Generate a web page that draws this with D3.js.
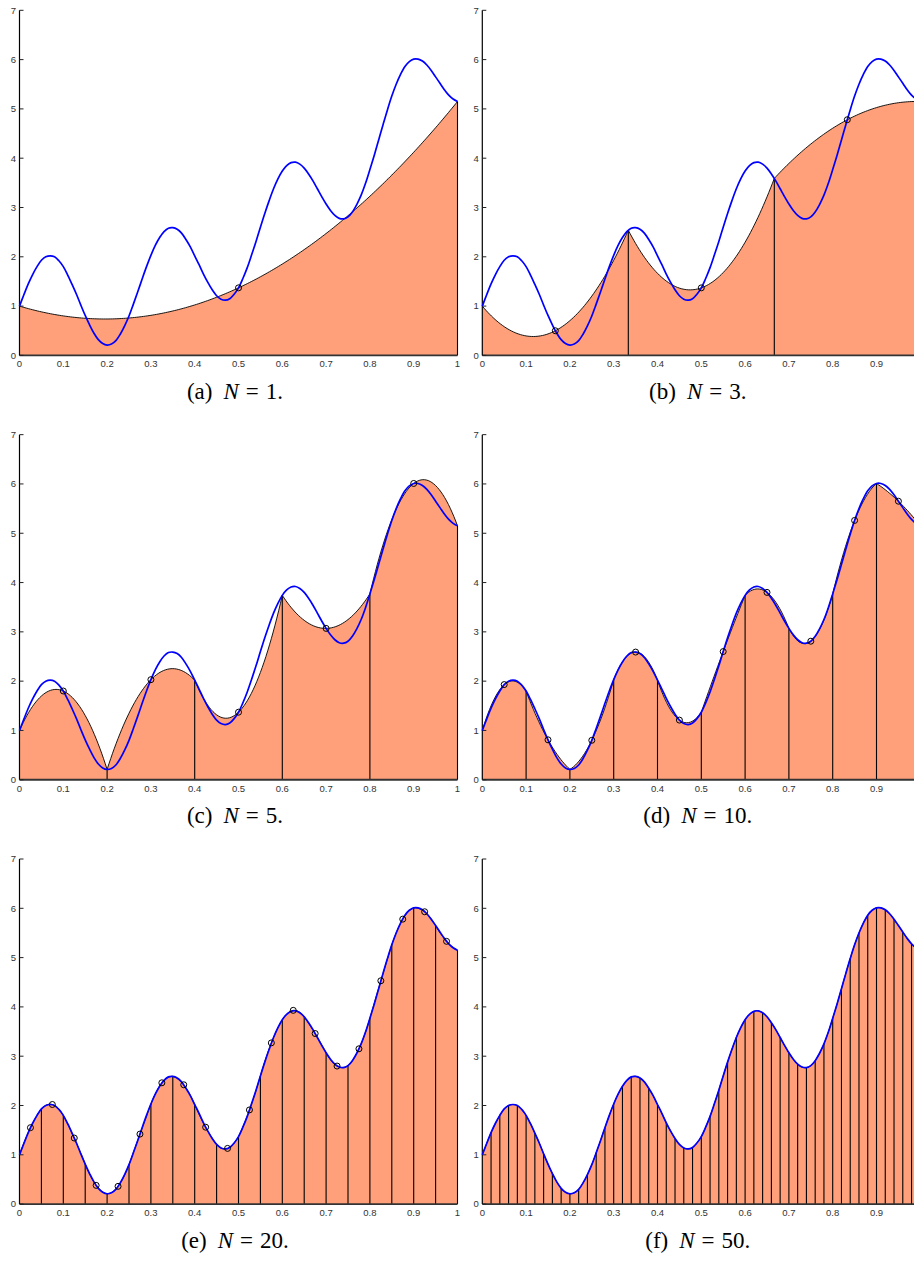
<!DOCTYPE html>
<html><head><meta charset="utf-8">
<script src="https://cdn.jsdelivr.net/npm/d3@7"></script>
<style>body{margin:0;background:#fff}svg{display:block}</style>
</head><body>
<svg id="c" width="914" height="1262"></svg>
<script>
// Function values, x = 0, 0.01, ..., 1
const fValues = [
  1.00,1.23,1.45,1.64,1.80,1.93,2.00,2.02,2.00,1.92,
  1.80,1.63,1.44,1.24,1.02,0.81,0.62,0.45,0.32,0.24,
  0.21,0.23,0.30,0.43,0.60,0.80,1.04,1.29,1.55,1.80,
  2.03,2.23,2.39,2.51,2.58,2.59,2.56,2.48,2.35,2.20,
  2.02,1.84,1.65,1.48,1.33,1.21,1.14,1.12,1.15,1.24,
  1.37,1.56,1.78,2.04,2.31,2.60,2.88,3.14,3.38,3.58,
  3.74,3.85,3.91,3.92,3.88,3.80,3.68,3.54,3.38,3.22,
  3.07,2.94,2.84,2.78,2.77,2.81,2.91,3.06,3.25,3.49,
  3.77,4.06,4.37,4.68,4.98,5.26,5.50,5.70,5.86,5.96,
  6.01,6.01,5.97,5.89,5.78,5.65,5.52,5.39,5.28,5.20,5.15
];
// Midpoint values for N = 20 (x = 0.025, 0.075, ..., 0.975)
const midValuesN20 = [1.55,2.02,1.34,0.38,0.36,1.42,2.46,2.42,1.56,1.13,
                      1.91,3.27,3.93,3.46,2.80,3.15,4.53,5.78,5.93,5.33];
// Node values for N = 3 (x = 0, 1/6, 2/6, ..., 1)
const nodeValuesN3 = [1.00,0.50,2.54,1.37,3.59,4.78,5.15];

const panelLetters = ['a','b','c','d','e','f'];
const panelN = [1,3,5,10,20,50];
const showMarkers = [true,true,true,true,true,false];
const xTickValues = [0,0.1,0.2,0.3,0.4,0.5,0.6,0.7,0.8,0.9,1];
const xTickLabels = ['0','0.1','0.2','0.3','0.4','0.5','0.6','0.7','0.8','0.9','1'];
const yTickValues = [0,1,2,3,4,5,6,7];
const yTickLabels = ['0','1','2','3','4','5','6','7'];

const PAGE_W = 914;
const W = 438, H = 345.1;
const colX = [19.5, 482.3];
const rowY = [10.3, 434.65, 859];
const capDX = 215.5, capBase = 399;

const svg = d3.select('#c');
svg.append('rect').attr('width',914).attr('height',1262).attr('fill','#fff');

function nodesFor(N){
  const m = 2*N;
  return d3.range(m+1).map(j => {
    const x = j/m;
    let y;
    if (N === 3) y = nodeValuesN3[j];
    else if (N === 20) y = (j % 2 === 0) ? fValues[Math.round(j*2.5)] : midValuesN20[(j-1)/2];
    else y = fValues[Math.round(j*50/N)];
    return {x, y};
  });
}

function parabolaPoints(nodes, S){
  const pts = [];
  for (let i = 0; i + 2 < nodes.length; i += 2){
    const a = nodes[i], m = nodes[i+1], b = nodes[i+2];
    for (let t = (i === 0 ? 0 : 1); t <= S; t++){
      const x = a.x + (b.x - a.x) * t / S;
      const L0 = (x - m.x)*(x - b.x)/((a.x - m.x)*(a.x - b.x));
      const L1 = (x - a.x)*(x - b.x)/((m.x - a.x)*(m.x - b.x));
      const L2 = (x - a.x)*(x - m.x)/((b.x - a.x)*(b.x - m.x));
      pts.push({x, y: a.y*L0 + m.y*L1 + b.y*L2});
    }
  }
  return pts;
}

panelN.forEach((N, p) => {
  const col = p % 2, row = Math.floor(p / 2);
  const x = d3.scaleLinear().domain([0,1]).range([colX[col], colX[col] + W]);
  const y = d3.scaleLinear().domain([0,7]).range([rowY[row] + H, rowY[row]]);
  const g = svg.append('g');
  const nodes = nodesFor(N);
  const S = Math.max(8, Math.round(240 / N));
  const par = parabolaPoints(nodes, S);

  g.append('path').datum(par)
    .attr('d', d3.area().x(d => x(d.x)).y0(y(0)).y1(d => y(d.y)))
    .attr('fill', '#ffa07a').attr('stroke', 'none');

  const bounds = nodes.filter((d, j) => j % 2 === 0 && j > 0);
  g.selectAll('line.sep').data(bounds).enter().append('line')
    .attr('x1', d => x(d.x)).attr('x2', d => x(d.x))
    .attr('y1', y(0)).attr('y2', d => y(d.y))
    .attr('stroke', '#000').attr('stroke-width', 1.1);

  g.append('path').datum(par)
    .attr('d', d3.line().x(d => x(d.x)).y(d => y(d.y)))
    .attr('fill', 'none').attr('stroke', '#000').attr('stroke-width', 0.9);

  g.append('line').attr('x1', x(0)).attr('x2', x(1)).attr('y1', y(0)).attr('y2', y(0))
    .attr('stroke', '#333').attr('stroke-width', 1.8);
  g.append('line').attr('x1', x(0)).attr('x2', x(0)).attr('y1', y(0)).attr('y2', y(7))
    .attr('stroke', '#000').attr('stroke-width', 1.2);
  g.selectAll('line.yt').data(yTickValues).enter().append('line')
    .attr('x1', x(0)).attr('x2', x(0) + 4).attr('y1', d => y(d)).attr('y2', d => y(d))
    .attr('stroke', '#222').attr('stroke-width', 1);
  g.selectAll('text.yl').data(yTickValues).enter().append('text')
    .attr('x', x(0) - 3.5).attr('y', d => y(d) + 3.3)
    .attr('text-anchor', 'end').attr('font-family', 'Liberation Sans, Arial, sans-serif')
    .attr('font-size', 9.5).attr('fill', '#333').text((d, i) => yTickLabels[i]);
  const visibleX = xTickValues.map((v, i) => ({v, label: xTickLabels[i]}))
    .filter(d => x(d.v) + 4 <= PAGE_W);
  g.selectAll('text.xl').data(visibleX).enter().append('text')
    .attr('x', d => x(d.v)).attr('y', y(0) + 12)
    .attr('text-anchor', 'middle').attr('font-family', 'Liberation Sans, Arial, sans-serif')
    .attr('font-size', 9.5).attr('fill', '#333').text(d => d.label);

  g.append('path').datum(fValues)
    .attr('d', d3.line().curve(d3.curveCatmullRom).x((d, i) => x(i / 100)).y(d => y(d)))
    .attr('fill', 'none').attr('stroke', '#0000ff').attr('stroke-width', 1.7);

  if (showMarkers[p]) {
    const mids = nodes.filter((d, j) => j % 2 === 1);
    g.selectAll('circle').data(mids).enter().append('circle')
      .attr('cx', d => x(d.x)).attr('cy', d => y(d.y)).attr('r', 3)
      .attr('fill', 'none').attr('stroke', '#000').attr('stroke-width', 1);
  }

  const t = svg.append('text')
    .attr('x', colX[col] + capDX).attr('y', rowY[row] + H + capBase - 355.4)
    .attr('text-anchor', 'middle').attr('font-family', 'Liberation Serif, Times New Roman, serif')
    .attr('font-size', 23).attr('fill', '#000');
  t.append('tspan').text('(' + panelLetters[p] + ')');
  t.append('tspan').attr('dx', 11).attr('font-style', 'italic').text('N');
  t.append('tspan').attr('dx', 7).text('=');
  t.append('tspan').attr('dx', 7).text(N + '.');
});
</script>
</body></html>
